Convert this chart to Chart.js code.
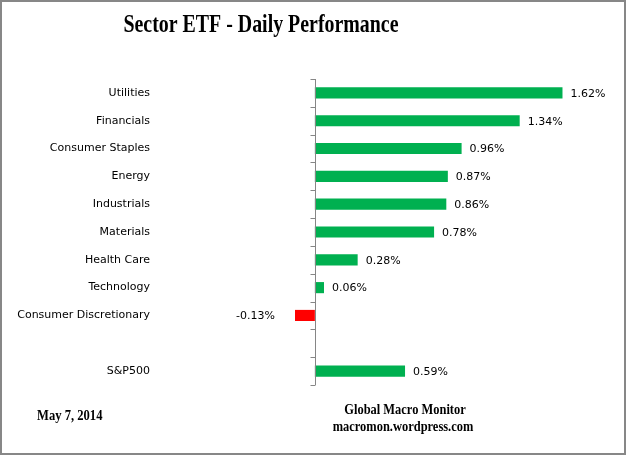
<!DOCTYPE html>
<html>
<head>
<meta charset="utf-8">
<script src="https://cdn.jsdelivr.net/npm/chart.js@4/dist/chart.umd.min.js"></script>
<style>
html,body{margin:0;padding:0;background:#fff;}
#wrap{width:626px;height:455px;position:relative;}
</style>
</head>
<body>
<div id="wrap"><canvas id="c" width="626" height="455"></canvas></div>
<script>
const categories = ["Utilities","Financials","Consumer Staples","Energy","Industrials","Materials","Health Care","Technology","Consumer Discretionary","","S&P500"];
const values = [1.62, 1.34, 0.96, 0.87, 0.86, 0.78, 0.28, 0.06, -0.13, null, 0.59];
const titleText = "Sector ETF - Daily Performance";
const dateText = "May 7, 2014";
const sourceLines = ["Global Macro Monitor", "macromon.wordpress.com"];

const POS = "#00B050", NEG = "#FF0000";
const labelFont = "11px Tahoma, 'DejaVu Sans', sans-serif";
const serifBold = "'Liberation Serif', 'Times New Roman', serif";

function condensedText(ctx, txt, cx, y, sx, align) {
  ctx.save();
  ctx.translate(cx, y);
  ctx.scale(sx, 1);
  ctx.textAlign = align;
  ctx.fillText(txt, 0, 0);
  ctx.restore();
}

const decor = {
  id: "decor",
  afterDatasetsDraw(chart) {
    const ctx = chart.ctx;
    const xs = chart.scales.x;
    const x0 = Math.round(xs.getPixelForValue(0)) + 0.5;
    const top = chart.chartArea.top, bottom = chart.chartArea.bottom;
    ctx.save();
    ctx.strokeStyle = "#868686";
    ctx.lineWidth = 1;
    ctx.beginPath();
    ctx.moveTo(x0, top);
    ctx.lineTo(x0, bottom);
    const n = categories.length;
    const step = (bottom - top) / n;
    for (let i = 0; i <= n; i++) {
      const y = Math.round(top + i * step) + 0.5;
      ctx.moveTo(x0 - 5, y);
      ctx.lineTo(x0, y);
    }
    ctx.stroke();
    ctx.fillStyle = "#000";
    ctx.font = labelFont;
    ctx.textBaseline = "middle";
    const meta = chart.getDatasetMeta(0);
    meta.data.forEach((bar, i) => {
      const v = values[i];
      if (v === null || v === undefined) return;
      const txt = v.toFixed(2) + "%";
      if (v >= 0) {
        ctx.textAlign = "left";
        ctx.fillText(txt, bar.x + 8, bar.y + 1);
      } else {
        ctx.textAlign = "right";
        ctx.fillText(txt, bar.x - 20, bar.y + 1);
      }
    });
    ctx.fillStyle = "#000";
    ctx.textBaseline = "alphabetic";
    ctx.font = "bold 26px " + serifBold;
    condensedText(ctx, titleText, 261, 32, 0.765, "center");
    ctx.font = "bold 15px " + serifBold;
    condensedText(ctx, dateText, 37, 420, 0.84, "left");
    condensedText(ctx, sourceLines[0], 405, 414, 0.83, "center");
    condensedText(ctx, sourceLines[1], 403, 431, 0.83, "center");
    ctx.strokeStyle = "#878787";
    ctx.lineWidth = 2;
    ctx.strokeRect(1, 1, 624, 453);
    ctx.restore();
  }
};

new Chart(document.getElementById("c"), {
  type: "bar",
  data: {
    labels: categories,
    datasets: [{
      data: values,
      backgroundColor: values.map(v => (v !== null && v < 0) ? NEG : POS),
      borderWidth: 0,
      barPercentage: 0.4,
      categoryPercentage: 1.0
    }]
  },
  options: {
    indexAxis: "y",
    responsive: false,
    animation: false,
    devicePixelRatio: 1,
    layout: { padding: { top: 79, bottom: 70, left: 0, right: 36 } },
    plugins: { legend: { display: false }, tooltip: { enabled: false }, title: { display: false } },
    scales: {
      x: { display: false, min: -1, max: 1.8 },
      y: {
        grid: { display: false, drawTicks: false },
        border: { display: false },
        ticks: {
          color: "#000",
          font: { family: "Tahoma, 'DejaVu Sans', sans-serif", size: 11 },
          padding: 12,
          autoSkip: false
        },
        afterFit(scale) { scale.width = 162; }
      }
    }
  },
  plugins: [decor]
});
</script>
</body>
</html>
